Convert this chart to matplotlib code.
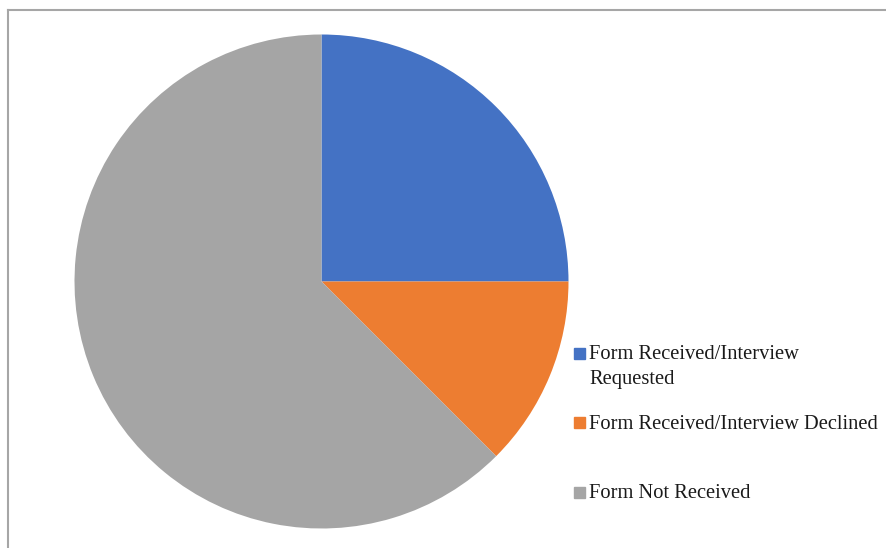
import matplotlib
matplotlib.use("Agg")
import matplotlib.pyplot as plt
from matplotlib.patches import Rectangle
from matplotlib.lines import Line2D

labels = ["Form Received/Interview\nRequested",
          "Form Received/Interview Declined",
          "Form Not Received"]
shares = [25.0, 12.5, 62.5]
colors = ["#4472C4", "#ED7D31", "#A5A5A5"]

W, H = 886, 548
fig = plt.figure(figsize=(W / 100, H / 100), dpi=100)
plt.rcParams['font.family'] = ['Liberation Serif', 'DejaVu Serif']

# pie axes placed so that the circle sits where it does in the picture
cx, cy, r = 321.5, 281.5, 247
ax = fig.add_axes([(cx - r) / W, (H - cy - r) / H, 2 * r / W, 2 * r / H])
ax.pie(shares, colors=colors, startangle=90, counterclock=False,
       wedgeprops=dict(linewidth=0))
ax.set_xlim(-1, 1)
ax.set_ylim(-1, 1)
ax.set_aspect("equal")
ax.axis("off")

# chart frame (only top and left edges show in the crop)
fig.add_artist(Line2D([8 / W, 8 / W], [0, 1 - 9.5 / H], color="#a6a6a6", lw=1.5))
fig.add_artist(Line2D([8 / W, 1], [1 - 9.5 / H, 1 - 9.5 / H], color="#a6a6a6", lw=1.5))

# legend drawn by hand, entries are not evenly spaced
square_top = [348, 417, 487]
baseline = [359, 429, 498]
line_step = 25
for lab, col, sy, by in zip(labels, colors, square_top, baseline):
    fig.add_artist(Rectangle((574 / W, 1 - (sy + 10.5) / H), 10.5 / W, 10.5 / H,
                             color=col, transform=fig.transFigure))
    for i, part in enumerate(lab.split("\n")):
        fig.text(589 / W, 1 - (by + i * line_step) / H, part, fontsize=14.8,
                 va="baseline", ha="left", color="#1a1a1a")

plt.savefig("out.png", dpi=100)
